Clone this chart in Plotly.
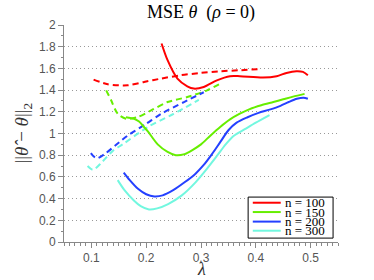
import plotly.graph_objects as go

# ---------------- data ----------------
series_names = ["n = 100", "n = 150", "n = 200", "n = 300"]
series_colors = ["#ff0000", "#66ee00", "#2440ff", "#72f7df"]

# solid curves
red_solid_x = [0.228, 0.239, 0.257, 0.275, 0.287, 0.305, 0.329, 0.353, 0.371, 0.413, 0.438, 0.456, 0.474, 0.486, 0.495]
red_solid_y = [1.83, 1.676, 1.506, 1.435, 1.414, 1.429, 1.49, 1.528, 1.528, 1.515, 1.528, 1.558, 1.574, 1.568, 1.537]

green_solid_x = [0.163, 0.178, 0.187, 0.196, 0.203, 0.221, 0.239, 0.254, 0.27, 0.285, 0.3, 0.317, 0.335, 0.353, 0.37, 0.389, 0.41, 0.432, 0.45, 0.468, 0.489]
green_solid_y = [1.15, 1.135, 1.11, 1.06, 1.02, 0.90, 0.83, 0.80, 0.81, 0.85, 0.90, 0.98, 1.06, 1.13, 1.18, 1.225, 1.26, 1.29, 1.315, 1.34, 1.365]

blue_solid_x = [0.159, 0.17, 0.185, 0.2, 0.215, 0.23, 0.25, 0.27, 0.29, 0.305, 0.32, 0.335, 0.35, 0.365, 0.385, 0.405, 0.425, 0.445, 0.46, 0.475, 0.487, 0.495]
blue_solid_y = [0.64, 0.57, 0.49, 0.44, 0.42, 0.43, 0.48, 0.55, 0.63, 0.71, 0.81, 0.92, 1.03, 1.10, 1.15, 1.19, 1.22, 1.255, 1.29, 1.32, 1.33, 1.32]

cyan_solid_x = [0.148, 0.16, 0.178, 0.19, 0.205, 0.22, 0.24, 0.265, 0.29, 0.31, 0.33, 0.345, 0.36, 0.38, 0.4, 0.425]
cyan_solid_y = [0.57, 0.48, 0.38, 0.33, 0.30, 0.31, 0.35, 0.43, 0.55, 0.67, 0.80, 0.90, 0.98, 1.04, 1.10, 1.17]

# dashed curves
red_dash_x = [0.104, 0.13, 0.166, 0.196, 0.227, 0.263, 0.299, 0.335, 0.371, 0.404]
red_dash_y = [1.497, 1.454, 1.444, 1.475, 1.506, 1.537, 1.558, 1.574, 1.583, 1.593]

green_dash_x = [0.127, 0.136, 0.148, 0.163, 0.184, 0.209, 0.239, 0.275, 0.311, 0.335]
green_dash_y = [1.398, 1.306, 1.182, 1.136, 1.151, 1.213, 1.29, 1.336, 1.398, 1.46]

blue_dash_x = [0.099, 0.104, 0.11, 0.124, 0.151, 0.166, 0.2, 0.227, 0.269, 0.305]
blue_dash_y = [0.82, 0.79, 0.77, 0.81, 0.92, 0.98, 1.09, 1.18, 1.29, 1.38]

cyan_dash_x = [0.093, 0.103, 0.12, 0.139, 0.157, 0.203, 0.25, 0.296]
cyan_dash_y = [0.70, 0.665, 0.74, 0.84, 0.90, 1.06, 1.18, 1.31]

y_tick_vals = [0, 0.2, 0.4, 0.6, 0.8, 1, 1.2, 1.4, 1.6, 1.8, 2]
x_tick_vals = [0.1, 0.2, 0.3, 0.4, 0.5]

# ---------------- figure ----------------
fig = go.Figure()

solids = [(red_solid_x, red_solid_y), (green_solid_x, green_solid_y),
          (blue_solid_x, blue_solid_y), (cyan_solid_x, cyan_solid_y)]
dashes = [(red_dash_x, red_dash_y), (green_dash_x, green_dash_y),
          (blue_dash_x, blue_dash_y), (cyan_dash_x, cyan_dash_y)]

for (xs, ys), name, col in zip(dashes, series_names, series_colors):
    fig.add_trace(go.Scatter(x=xs, y=ys, mode="lines", name=name + " (dashed)",
                             line=dict(color=col, width=2, dash="6px,4px", shape="spline", smoothing=0.8),
                             showlegend=False, hoverinfo="skip"))
for (xs, ys), name, col in zip(solids, series_names, series_colors):
    fig.add_trace(go.Scatter(x=xs, y=ys, mode="lines", name=name,
                             line=dict(color=col, width=2, shape="spline", smoothing=0.8),
                             showlegend=False))

tick_font = dict(family="Liberation Sans, Arial, sans-serif", size=12, color="#555555")
serif = "Liberation Serif, Times New Roman, serif"

fig.update_xaxes(range=[0.05, 0.55], tickvals=x_tick_vals, ticktext=[str(v) for v in x_tick_vals],
                 showline=True, linecolor="#888888", linewidth=1,
                 ticks="outside", ticklen=5, tickcolor="#888888", tickwidth=1,
                 minor=dict(dtick=0.01, ticks="outside", ticklen=2.5, tickcolor="#888888", showgrid=False),
                 showgrid=False, zeroline=False, tickfont=tick_font)
fig.update_yaxes(range=[0, 2], tickvals=y_tick_vals,
                 showline=True, linecolor="#888888", linewidth=1,
                 ticks="outside", ticklen=5, tickcolor="#888888", tickwidth=1,
                 minor=dict(dtick=0.1, ticks="outside", ticklen=2.5, tickcolor="#888888", showgrid=False),
                 showgrid=True, gridcolor="#999999", griddash="1px,3px", gridwidth=1,
                 zeroline=False, tickfont=tick_font)

# manual legend (tightly packed like the reference)
shapes = [dict(type="rect", xref="paper", yref="paper", x0=0.672, x1=0.982, y0=0.018, y1=0.207,
               line=dict(color="black", width=1), fillcolor="white", layer="above")]
annotations = []
legend_rows_y = [0.181, 0.138, 0.094, 0.052]
for name, col, ly in zip(series_names, series_colors, legend_rows_y):
    shapes.append(dict(type="line", xref="paper", yref="paper", x0=0.689, x1=0.791, y0=ly, y1=ly,
                       line=dict(color=col, width=2), layer="above"))
    annotations.append(dict(text=name, xref="paper", yref="paper", x=0.798, y=ly, xanchor="left",
                            yanchor="middle", showarrow=False, font=dict(family=serif, size=13, color="black")))

annotations.append(dict(text="||<i>θ̂</i> − <i>θ</i>||<sub>2</sub>", xref="paper", yref="paper",
                        x=-0.153, y=0.5, textangle=-90, showarrow=False, xanchor="center", yanchor="middle",
                        font=dict(family=serif, size=19, color="#333333")))
annotations.append(dict(text="<i>λ</i>", xref="paper", yref="paper", x=0.5, y=-0.125,
                        showarrow=False, xanchor="center", yanchor="middle",
                        font=dict(family=serif, size=18, color="#333333")))

fig.update_layout(
    width=374, height=280,
    margin=dict(l=64, r=36, t=25, b=38),
    paper_bgcolor="white", plot_bgcolor="white",
    title=dict(text="MSE <i>θ</i>  (<i>ρ</i> = 0)", x=0.5375, xanchor="center",
               y=1 - 12 / 280, yref="container", yanchor="middle",
               font=dict(family=serif, size=18, color="black")),
    shapes=shapes, annotations=annotations,
    showlegend=False,
)

fig.write_html("out.html", config={"displayModeBar": False},
               post_script="document.body.style.margin='0';document.body.style.padding='0';")
